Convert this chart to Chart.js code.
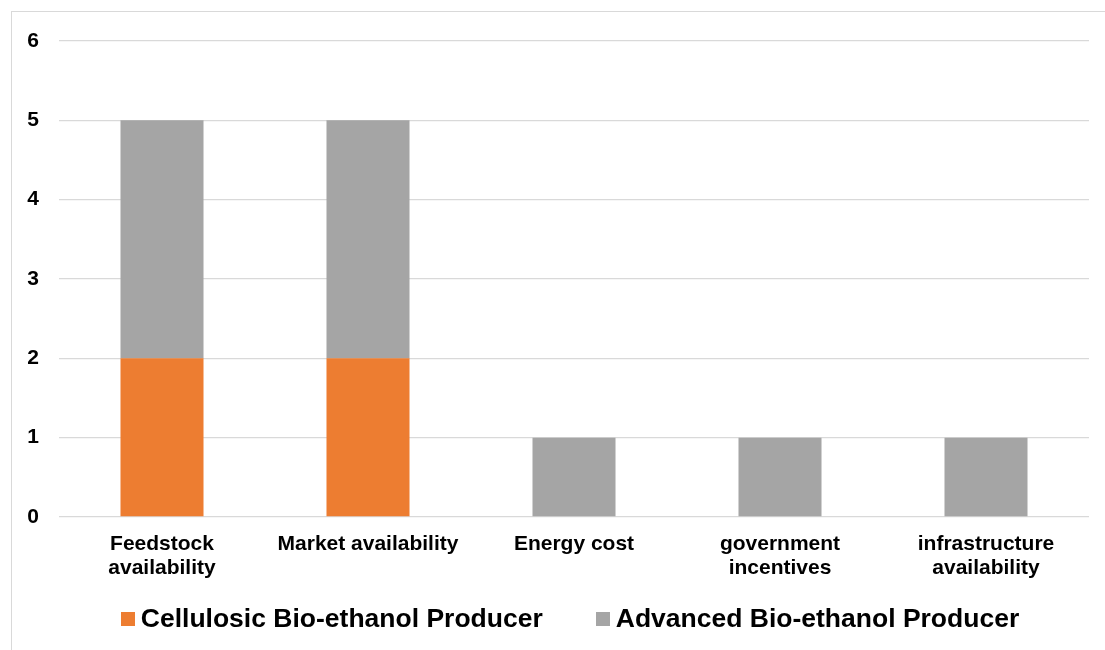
<!DOCTYPE html>
<html>
<head>
<meta charset="utf-8">
<script src="https://cdn.jsdelivr.net/npm/chart.js@4/dist/chart.umd.min.js"></script>
<style>
  html, body { margin: 0; padding: 0; background: #fff; overflow: hidden; }
  #wrap { position: relative; width: 1105px; height: 650px; }
  #frame { position: absolute; left: 11px; top: 11px; width: 1200px; height: 700px;
           border: 1px solid #d9d9d9; box-sizing: border-box; }
  #chart { position: absolute; left: 0; top: 0; }
  #legend { position: absolute; left: 0; top: 603px; width: 1140px; display: flex;
            justify-content: center; gap: 53px;
            font: bold 26.5px "Liberation Sans", Arial, sans-serif; color: #000; }
  .item { display: flex; align-items: center; white-space: nowrap; }
  .swatch { width: 14px; height: 14px; margin-right: 6px; }
</style>
</head>
<body>
<div id="wrap">
  <div id="frame"></div>
  <canvas id="chart" width="1105" height="650"></canvas>
  <div id="legend"></div>
</div>
<script>
// Factors cited by producers
const categories = [
  ['Feedstock', 'availability'],
  'Market availability',
  'Energy cost',
  ['government', 'incentives'],
  ['infrastructure', 'availability']
];
const seriesNames = ['Cellulosic Bio-ethanol Producer', 'Advanced Bio-ethanol Producer'];
const cellulosic = [2, 2, 0, 0, 0];
const advanced = [3, 3, 1, 1, 1];
const seriesColors = ['#ED7D31', '#A5A5A5'];
const yTicks = [0, 1, 2, 3, 4, 5, 6];

const font = '"Liberation Sans", Arial, sans-serif';

new Chart(document.getElementById('chart'), {
  type: 'bar',
  data: {
    labels: categories,
    datasets: [
      { label: seriesNames[0], data: cellulosic, backgroundColor: seriesColors[0] },
      { label: seriesNames[1], data: advanced, backgroundColor: seriesColors[1] }
    ]
  },
  options: {
    responsive: false,
    animation: false,
    layout: { padding: { top: 41, right: 16, bottom: 0, left: 0 } },
    datasets: { bar: { barPercentage: 0.403, categoryPercentage: 1 } },
    plugins: { legend: { display: false }, tooltip: { enabled: false } },
    scales: {
      x: {
        stacked: true,
        grid: { display: false },
        border: { display: false },
        ticks: {
          color: '#000', padding: 7, maxRotation: 0, autoSkip: false,
          font: { family: font, size: 21, weight: 'bold', lineHeight: 1.15 }
        },
        afterFit(scale) { scale.height = 133; }
      },
      y: {
        stacked: true,
        min: yTicks[0],
        max: yTicks[yTicks.length - 1],
        grid: { color: '#d9d9d9', lineWidth: 1.3, drawTicks: false },
        border: { display: false },
        afterBuildTicks(scale) { scale.ticks = yTicks.map(v => ({ value: v })); },
        ticks: {
          color: '#000', padding: 20,
          font: { family: font, size: 21, weight: 'bold' }
        },
        afterFit(scale) { scale.width = 59; }
      }
    }
  }
});

// Legend row
const legend = document.getElementById('legend');
seriesNames.forEach((name, i) => {
  const item = document.createElement('div');
  item.className = 'item';
  const sw = document.createElement('span');
  sw.className = 'swatch';
  sw.style.background = seriesColors[i];
  const txt = document.createElement('span');
  txt.textContent = name;
  item.appendChild(sw);
  item.appendChild(txt);
  legend.appendChild(item);
});
</script>
</body>
</html>
